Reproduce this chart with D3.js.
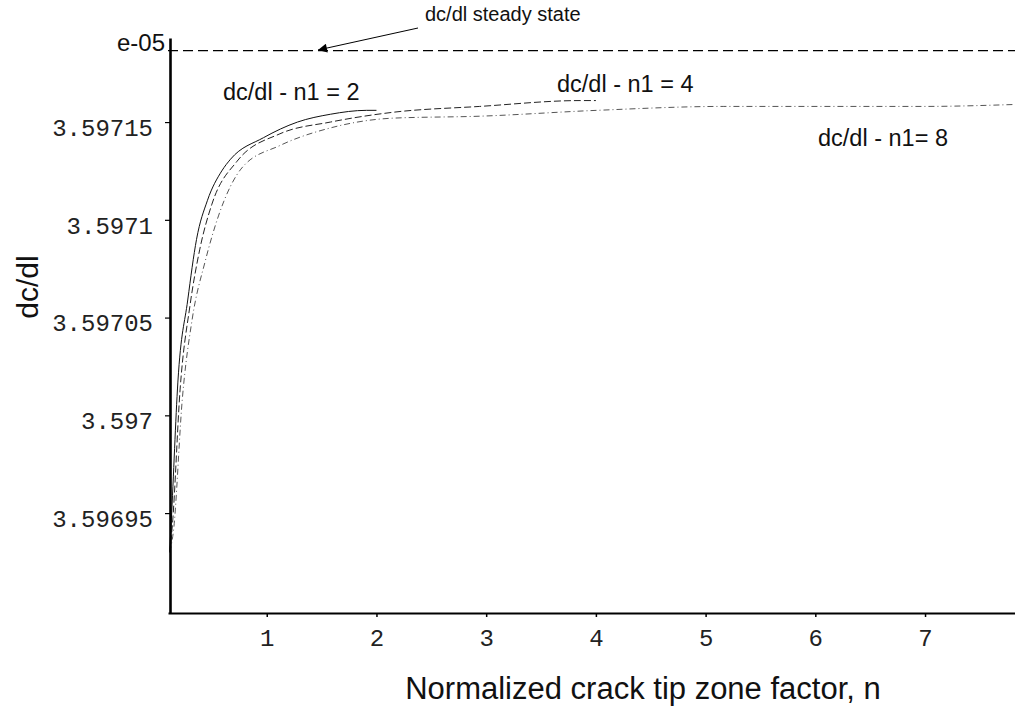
<!DOCTYPE html>
<html>
<head>
<meta charset="utf-8">
<script src="https://cdn.jsdelivr.net/npm/d3@7"></script>
<style>
  body { margin: 0; background: #fff; }
  svg { display: block; }
  .tick-label { font-family: "Liberation Mono", "DejaVu Sans Mono", monospace; font-size: 24px; fill: #222; }
  .label { font-family: "Liberation Sans", Arial, sans-serif; fill: #111; }
</style>
</head>
<body>
<div id="svg"></div>
<script>
/*
 * Values. dc/dl is in units of e-05.
 */
var nN1_2 = [0.115, 0.13, 0.19, 0.28, 0.36, 0.46, 0.59, 0.67, 0.97, 1.28, 1.58, 1.91, 2.0]
  , dcdlN1_2 = [3.59693, 3.596946, 3.597017, 3.597059, 3.59709, 3.59711, 3.597125, 3.597131, 3.597142, 3.59715, 3.597154, 3.597156, 3.597156];

var nN1_4 = [0.115, 0.14, 0.21, 0.30, 0.39, 0.50, 0.73, 1.12, 1.58, 2.15, 2.94, 3.86, 4.0]
  , dcdlN1_4 = [3.59693, 3.596944, 3.597013, 3.597056, 3.597085, 3.597108, 3.59713, 3.597144, 3.59715, 3.597155, 3.597158, 3.597161, 3.597161];

var nN1_8 = [0.115, 0.15, 0.23, 0.32, 0.44, 0.56, 0.78, 1.12, 1.58, 2.15, 2.94, 4.01, 5.16, 6.07, 6.98, 7.82]
  , dcdlN1_8 = [3.59693, 3.596941, 3.597008, 3.597049, 3.597079, 3.597102, 3.597127, 3.597138, 3.597147, 3.597152, 3.597153, 3.597156, 3.597158, 3.597158, 3.597158, 3.597159];

var steadyState = 3.5971865;

var xTicks = [1, 2, 3, 4, 5, 6, 7]
  , yTicks = [3.59695, 3.597, 3.59705, 3.5971, 3.59715]
  , yTickLabels = ["3.59695", "3.597", "3.59705", "3.5971", "3.59715"];

var width = 1015
  , height = 713;


/*
 * Scales, the plot box runs from the axis corner to the right edge.
 */
var x = d3.scaleLinear().domain([0.1, 7.82]).range([168, 1015]);
var y = d3.scaleLinear().domain([3.5968989, 3.597193]).range([613, 38]);

var svg = d3.select('#svg').append('svg')
  .attr('width', width)
  .attr('height', height);

svg.append('defs').append('marker')
  .attr('id', 'head')
  .attr('viewBox', '0 0 10 10')
  .attr('refX', 10)
  .attr('refY', 5)
  .attr('markerWidth', 14)
  .attr('markerHeight', 9)
  .attr('markerUnits', 'userSpaceOnUse')
  .attr('orient', 'auto')
  .append('path')
  .attr('d', 'M0,0 L10,5 L0,10 z')
  .attr('fill', '#000');


/*
 * Steady state line.
 */
svg.append('line')
  .attr('x1', x(0.1)).attr('x2', x(7.82))
  .attr('y1', y(steadyState)).attr('y2', y(steadyState))
  .attr('stroke', '#000')
  .attr('stroke-width', 1.2)
  .attr('stroke-dasharray', '10,5');


/*
 * The three curves.
 */
var line = d3.line()
  .x(function(d) { return x(d[0]); })
  .y(function(d) { return y(d[1]); })
  .curve(d3.curveMonotoneX);

var curves = [
  { n: nN1_2, v: dcdlN1_2, dash: null, color: '#111' },
  { n: nN1_4, v: dcdlN1_4, dash: '7,3', color: '#222' },
  { n: nN1_8, v: dcdlN1_8, dash: '6,3,1,3', color: '#555' }
];

curves.forEach(function(c) {
  svg.append('path')
    .datum(d3.zip(c.n, c.v))
    .attr('d', line)
    .attr('fill', 'none')
    .attr('stroke', c.color)
    .attr('stroke-width', 1)
    .attr('stroke-dasharray', c.dash);
});


/*
 * Axes.
 */
var xAxis = svg.append('g')
  .attr('transform', 'translate(0,' + 613 + ')')
  .call(d3.axisBottom(x).tickValues(xTicks).tickSize(4).tickSizeOuter(0).tickFormat(d3.format('d')));

xAxis.select('.domain').attr('stroke-width', 2.2).attr('stroke', '#000');
xAxis.selectAll('.tick line').attr('stroke-width', 1.5);
xAxis.selectAll('.tick text')
  .attr('class', 'tick-label')
  .attr('font-family', null).attr('font-size', null)
  .attr('y', 16);

var yAxis = svg.append('g')
  .attr('transform', 'translate(170,0)')
  .call(d3.axisLeft(y).tickValues(yTicks).tickSize(5).tickSizeOuter(0)
    .tickFormat(function(d, i) { return yTickLabels[i]; }));

yAxis.select('.domain').attr('stroke-width', 2.6).attr('stroke', '#000');
yAxis.selectAll('.tick line').attr('stroke-width', 1.2);
yAxis.selectAll('.tick text')
  .attr('class', 'tick-label')
  .attr('font-family', null).attr('font-size', null)
  .attr('x', -17)
  .attr('dy', '0.55em');


/*
 * Texts.
 */
svg.append('text').attr('class', 'label')
  .attr('x', 165).attr('y', 51)
  .attr('text-anchor', 'end')
  .style('font-size', '24px')
  .text('e-05');

svg.append('text').attr('class', 'label')
  .attr('x', 425).attr('y', 21)
  .style('font-size', '20px')
  .text('dc/dl steady state');

svg.append('line')
  .attr('x1', 418).attr('y1', 28)
  .attr('x2', 318).attr('y2', 50)
  .attr('stroke', '#000')
  .attr('stroke-width', 1)
  .attr('marker-end', 'url(#head)');

svg.append('text').attr('class', 'label')
  .attr('x', 223).attr('y', 100)
  .style('font-size', '23.5px')
  .text('dc/dl - n1 = 2');

svg.append('text').attr('class', 'label')
  .attr('x', 557).attr('y', 92)
  .style('font-size', '23.5px')
  .text('dc/dl - n1 = 4');

svg.append('text').attr('class', 'label')
  .attr('x', 818).attr('y', 146)
  .style('font-size', '23.5px')
  .text('dc/dl - n1= 8');

svg.append('text').attr('class', 'label')
  .attr('x', 643).attr('y', 699)
  .attr('text-anchor', 'middle')
  .style('font-size', '31px')
  .text('Normalized crack tip zone factor, n');

svg.append('text').attr('class', 'label')
  .attr('transform', 'translate(38,' + 287 + ') rotate(-90)')
  .attr('text-anchor', 'middle')
  .style('font-size', '30px')
  .text('dc/dl');
</script>
</body>
</html>
